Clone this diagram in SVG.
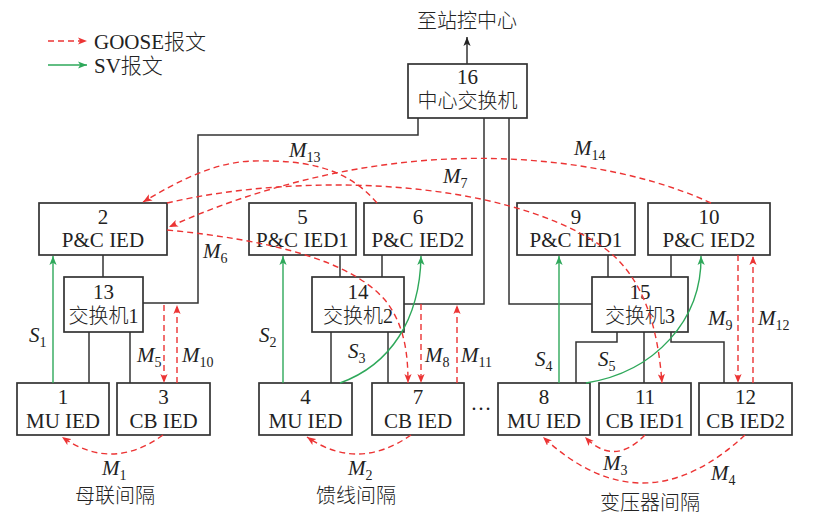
<svg xmlns="http://www.w3.org/2000/svg" width="819" height="516" viewBox="0 0 819 516">
  <defs>
    <style>
      text { font-family: 'Liberation Serif', 'Noto Sans CJK SC', serif; font-size: 21px; font-weight: 300; fill: #222; }
      .c { text-anchor: middle; }
      .cjk { font-size: 20px; }
      .lbl { font-style: italic; }
      .sub { font-style: normal; font-size: 14px; }
      .box { fill: #fff; stroke: #333; stroke-width: 1.7; }
      .wire { fill: none; stroke: #333; stroke-width: 1.5; }
      .goose { fill: none; stroke: #ec3434; stroke-width: 1.4; stroke-dasharray: 6 4; marker-end: url(#ah-r); }
      .sv { fill: none; stroke: #2ea85a; stroke-width: 1.4; marker-end: url(#ah-g); }
    </style>
    <marker id="ah-r" viewBox="0 0 10 8" refX="10" refY="4" markerWidth="9" markerHeight="7.5" markerUnits="userSpaceOnUse" orient="auto">
      <path d="M0,0 L10,4 L0,8 L2.5,4 z" fill="#ec3434"/>
    </marker>
    <marker id="ah-g" viewBox="0 0 10 8" refX="10" refY="4" markerWidth="9" markerHeight="7.5" markerUnits="userSpaceOnUse" orient="auto">
      <path d="M0,0 L10,4 L0,8 L2.5,4 z" fill="#2ea85a"/>
    </marker>
    <marker id="ah-k" viewBox="0 0 10 8" refX="10" refY="4" markerWidth="9" markerHeight="7.5" markerUnits="userSpaceOnUse" orient="auto">
      <path d="M0,0 L10,4 L0,8 L2.5,4 z" fill="#222"/>
    </marker>
  </defs>

  <rect width="819" height="516" fill="#fff"/>

  <!-- legend -->
  <g id="legend">
    <path class="goose" d="M48,41 H87"/>
    <text x="94" y="49">GOOSE报文</text>
    <path class="sv" d="M48,65 H87"/>
    <text x="94" y="73">SV报文</text>
  </g>

  <!-- network cabling -->
  <g id="links">
    <path class="wire" d="M467,64 V37" marker-end="url(#ah-k)"/>
    <path class="wire" d="M418,118 V135 H198 V303 H143"/>
    <path class="wire" d="M484,118 V304 H404"/>
    <path class="wire" d="M509,118 V304 H592"/>
    <path class="wire" d="M103,255 V277"/>
    <path class="wire" d="M89,332 V383"/>
    <path class="wire" d="M130,332 V383"/>
    <path class="wire" d="M340,255 V277"/>
    <path class="wire" d="M382,255 V277"/>
    <path class="wire" d="M331,332 V383"/>
    <path class="wire" d="M388,332 V383"/>
    <path class="wire" d="M608,255 V277"/>
    <path class="wire" d="M671,255 V277"/>
    <path class="wire" d="M617,332 V342 H576 V383"/>
    <path class="wire" d="M644,332 V383"/>
    <path class="wire" d="M671,332 V342 H724 V383"/>
  </g>

  <text class="c cjk" x="467" y="28">至站控中心</text>

  <!-- devices -->
  <g id="n16"><rect class="box" x="408" y="64" width="119" height="54"/><text class="c" x="467.5" y="84">16</text><text class="c cjk" x="467.5" y="108">中心交换机</text></g>
  <g id="n2"><rect class="box" x="39" y="203" width="128" height="52"/><text class="c" x="103" y="224">2</text><text class="c" x="103" y="247">P&amp;C IED</text></g>
  <g id="n5"><rect class="box" x="249" y="203" width="107" height="52"/><text class="c" x="302.5" y="224">5</text><text class="c" x="302.5" y="247">P&amp;C IED1</text></g>
  <g id="n6"><rect class="box" x="364" y="203" width="108" height="52"/><text class="c" x="418" y="224">6</text><text class="c" x="418" y="247">P&amp;C IED2</text></g>
  <g id="n9"><rect class="box" x="517" y="203" width="118" height="52"/><text class="c" x="576" y="224">9</text><text class="c" x="576" y="247">P&amp;C IED1</text></g>
  <g id="n10"><rect class="box" x="648" y="203" width="122" height="52"/><text class="c" x="709" y="224">10</text><text class="c" x="709" y="247">P&amp;C IED2</text></g>
  <g id="n13"><rect class="box" x="64" y="277" width="79" height="55"/><text class="c" x="103.5" y="299">13</text><text class="c cjk" x="103.5" y="323">交换机1</text></g>
  <g id="n14"><rect class="box" x="312" y="277" width="92" height="55"/><text class="c" x="358" y="299">14</text><text class="c cjk" x="358" y="323">交换机2</text></g>
  <g id="n15"><rect class="box" x="592" y="277" width="96" height="55"/><text class="c" x="640" y="299">15</text><text class="c cjk" x="640" y="323">交换机3</text></g>
  <g id="n1"><rect class="box" x="17" y="383" width="92" height="52"/><text class="c" x="63" y="404">1</text><text class="c" x="63" y="428">MU IED</text></g>
  <g id="n3"><rect class="box" x="117" y="383" width="93" height="52"/><text class="c" x="163.5" y="404">3</text><text class="c" x="163.5" y="428">CB IED</text></g>
  <g id="n4"><rect class="box" x="259" y="383" width="93" height="52"/><text class="c" x="305.5" y="404">4</text><text class="c" x="305.5" y="428">MU IED</text></g>
  <g id="n7"><rect class="box" x="372" y="383" width="92" height="52"/><text class="c" x="418" y="404">7</text><text class="c" x="418" y="428">CB IED</text></g>
  <g id="n8"><rect class="box" x="498" y="383" width="92" height="52"/><text class="c" x="544" y="404">8</text><text class="c" x="544" y="428">MU IED</text></g>
  <g id="n11"><rect class="box" x="599" y="383" width="92" height="52"/><text class="c" x="645" y="404">11</text><text class="c" x="645" y="428">CB IED1</text></g>
  <g id="n12"><rect class="box" x="699" y="383" width="93" height="52"/><text class="c" x="745.5" y="404">12</text><text class="c" x="745.5" y="428">CB IED2</text></g>

  <text class="c" x="481" y="410">…</text>

  <!-- message flows -->
  <g id="connectors">
    <path class="goose" d="M163,435 Q112,472 62,437"/>
    <path class="goose" d="M411,435 Q358,472 307,437"/>
    <path class="goose" d="M645,435 Q614,467 585,437"/>
    <path class="goose" d="M745,435 Q643,530 543,437"/>
    <path class="goose" d="M164,305 V383"/>
    <path class="goose" d="M177,383 V305"/>
    <path class="goose" d="M421,304 V383"/>
    <path class="goose" d="M457,383 V305"/>
    <path class="goose" d="M738,255 V383"/>
    <path class="goose" d="M753,383 V256"/>
    <path class="goose" d="M167,230 C270,240 350,260 385,300 C405,325 408,355 408,383"/>
    <path class="goose" d="M167,203 C300,172 500,178 600,245 C645,275 658,330 662,383"/>
    <path class="goose" d="M377,203 C345,165 300,160 253,161 C215,162 180,180 143,202"/>
    <path class="goose" d="M711,203 C640,170 540,155 450,159 C350,163 250,190 169,227"/>
    <path class="sv" d="M53,383 V256"/>
    <path class="sv" d="M283,383 V256"/>
    <path class="sv" d="M340,383 C390,365 420,320 421,256"/>
    <path class="sv" d="M559,383 V256"/>
    <path class="sv" d="M586,383 C655,372 702,320 701,256"/>
  </g>

  <!-- flow labels -->
  <g id="labels">
    <text class="lbl" x="29" y="342">S<tspan class="sub" dy="5">1</tspan></text>
    <text class="lbl" x="259" y="342">S<tspan class="sub" dy="5">2</tspan></text>
    <text class="lbl" x="348" y="358">S<tspan class="sub" dy="5">3</tspan></text>
    <text class="lbl" x="535" y="366">S<tspan class="sub" dy="5">4</tspan></text>
    <text class="lbl" x="598" y="366">S<tspan class="sub" dy="5">5</tspan></text>
    <text class="lbl" x="102" y="475">M<tspan class="sub" dy="5">1</tspan></text>
    <text class="lbl" x="348" y="475">M<tspan class="sub" dy="5">2</tspan></text>
    <text class="lbl" x="603" y="470">M<tspan class="sub" dy="5">3</tspan></text>
    <text class="lbl" x="711" y="480">M<tspan class="sub" dy="5">4</tspan></text>
    <text class="lbl" x="137" y="362">M<tspan class="sub" dy="5">5</tspan></text>
    <text class="lbl" x="203" y="258">M<tspan class="sub" dy="5">6</tspan></text>
    <text class="lbl" x="443" y="183">M<tspan class="sub" dy="5">7</tspan></text>
    <text class="lbl" x="425" y="362">M<tspan class="sub" dy="5">8</tspan></text>
    <text class="lbl" x="708" y="325">M<tspan class="sub" dy="5">9</tspan></text>
    <text class="lbl" x="182" y="362">M<tspan class="sub" dy="5">10</tspan></text>
    <text class="lbl" x="461" y="362">M<tspan class="sub" dy="5">11</tspan></text>
    <text class="lbl" x="758" y="325">M<tspan class="sub" dy="5">12</tspan></text>
    <text class="lbl" x="289" y="157">M<tspan class="sub" dy="5">13</tspan></text>
    <text class="lbl" x="574" y="155">M<tspan class="sub" dy="5">14</tspan></text>
  </g>

  <!-- bay captions -->
  <text class="c cjk" x="115" y="503">母联间隔</text>
  <text class="c cjk" x="356" y="503">馈线间隔</text>
  <text class="c cjk" x="650" y="510">变压器间隔</text>
</svg>
